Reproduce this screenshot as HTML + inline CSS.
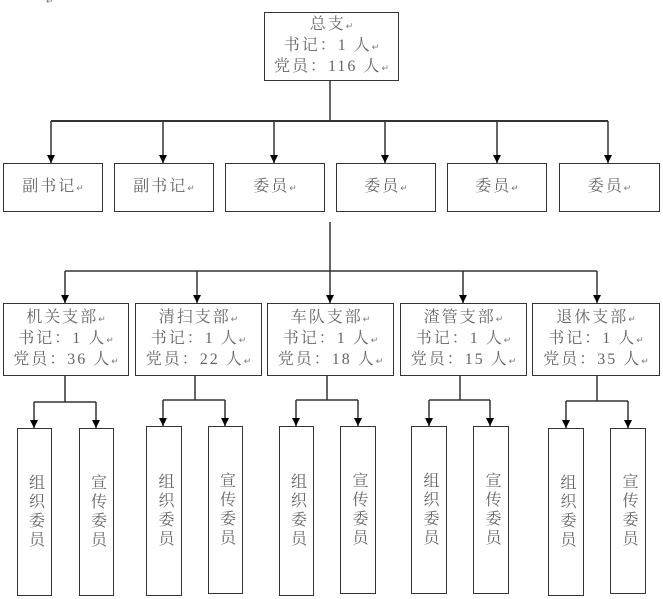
<!DOCTYPE html>
<html><head><meta charset="utf-8"><style>
body{margin:0;width:663px;height:599px;background:#fff;position:relative;overflow:hidden;font-family:"Liberation Serif","Noto Serif CJK SC",serif;color:#666}
.b{position:absolute;border:1.5px solid #333;box-sizing:border-box;background:#fff;text-align:center;display:flex;flex-direction:column;justify-content:center;font-size:16px;line-height:20px;letter-spacing:2px}
.r{font-size:9px;color:#777;letter-spacing:0}
.v{writing-mode:vertical-rl;font-size:16px;letter-spacing:3px;justify-content:center;align-items:center}
svg{position:absolute;left:0;top:0}
</style></head><body>
<div style="position:absolute;left:46px;top:-4px;font-size:9px;color:#777">↵</div>
<svg width="663" height="599">
<defs><marker id="a" markerWidth="9" markerHeight="9" refX="8" refY="4" orient="auto" markerUnits="userSpaceOnUse"><path d="M0,0 L8,4 L0,8 z" fill="#000"/></marker></defs>
<g stroke="#333" stroke-width="1.5" fill="none">
<line x1="330" y1="80" x2="330" y2="121"/>
<line x1="51" y1="121" x2="608" y2="121" stroke-width="2"/>
<line x1="51" y1="121" x2="51" y2="163" marker-end="url(#a)"/>
<line x1="163" y1="121" x2="163" y2="163" marker-end="url(#a)"/>
<line x1="274" y1="121" x2="274" y2="163" marker-end="url(#a)"/>
<line x1="385" y1="121" x2="385" y2="163" marker-end="url(#a)"/>
<line x1="497" y1="121" x2="497" y2="163" marker-end="url(#a)"/>
<line x1="608" y1="121" x2="608" y2="163" marker-end="url(#a)"/>
<line x1="330" y1="222" x2="330" y2="303" marker-end="url(#a)"/>
<line x1="65" y1="271" x2="597" y2="271"/>
<line x1="65" y1="271" x2="65" y2="303" marker-end="url(#a)"/>
<line x1="197" y1="271" x2="197" y2="303" marker-end="url(#a)"/>
<line x1="463" y1="271" x2="463" y2="303" marker-end="url(#a)"/>
<line x1="597" y1="271" x2="597" y2="303" marker-end="url(#a)"/>
<line x1="65" y1="375" x2="65" y2="402"/><line x1="34" y1="402" x2="96" y2="402"/>
<line x1="34" y1="402" x2="34" y2="428" marker-end="url(#a)"/><line x1="96" y1="402" x2="96" y2="428" marker-end="url(#a)"/>
<line x1="195" y1="375" x2="195" y2="400"/><line x1="163" y1="400" x2="225" y2="400"/>
<line x1="163" y1="400" x2="163" y2="426" marker-end="url(#a)"/><line x1="225" y1="400" x2="225" y2="426" marker-end="url(#a)"/>
<line x1="327" y1="375" x2="327" y2="400"/><line x1="296" y1="400" x2="358" y2="400"/>
<line x1="296" y1="400" x2="296" y2="426" marker-end="url(#a)"/><line x1="358" y1="400" x2="358" y2="426" marker-end="url(#a)"/>
<line x1="460" y1="375" x2="460" y2="400"/><line x1="429" y1="400" x2="490" y2="400"/>
<line x1="429" y1="400" x2="429" y2="426" marker-end="url(#a)"/><line x1="490" y1="400" x2="490" y2="426" marker-end="url(#a)"/>
<line x1="597" y1="375" x2="597" y2="401"/><line x1="566" y1="401" x2="628" y2="401"/>
<line x1="566" y1="401" x2="566" y2="428" marker-end="url(#a)"/><line x1="628" y1="401" x2="628" y2="428" marker-end="url(#a)"/>
</g></svg>
<div class="b" style="left:264px;top:12px;width:135px;height:69px">
<div>总支<span class="r">↵</span></div><div>书记：1 人<span class="r">↵</span></div><div>党员：116 人<span class="r">↵</span></div></div>
<div class="b" style="left:3px;top:163px;width:100px;height:49px"><div>副书记<span class="r">↵</span></div></div>
<div class="b" style="left:114px;top:163px;width:100px;height:49px"><div>副书记<span class="r">↵</span></div></div>
<div class="b" style="left:225px;top:163px;width:100px;height:49px"><div>委员<span class="r">↵</span></div></div>
<div class="b" style="left:336px;top:163px;width:100px;height:49px"><div>委员<span class="r">↵</span></div></div>
<div class="b" style="left:447px;top:163px;width:100px;height:49px"><div>委员<span class="r">↵</span></div></div>
<div class="b" style="left:559px;top:163px;width:101px;height:49px"><div>委员<span class="r">↵</span></div></div>

<div class="b" style="left:3px;top:303px;width:126px;height:73px"><div>机关支部<span class="r">↵</span></div><div>书记：1 人<span class="r">↵</span></div><div>党员：36 人<span class="r">↵</span></div></div>
<div class="b" style="left:135px;top:303px;width:127px;height:73px"><div>清扫支部<span class="r">↵</span></div><div>书记：1 人<span class="r">↵</span></div><div>党员：22 人<span class="r">↵</span></div></div>
<div class="b" style="left:267px;top:303px;width:127px;height:73px"><div>车队支部<span class="r">↵</span></div><div>书记：1 人<span class="r">↵</span></div><div>党员：18 人<span class="r">↵</span></div></div>
<div class="b" style="left:400px;top:303px;width:127px;height:73px"><div>渣管支部<span class="r">↵</span></div><div>书记：1 人<span class="r">↵</span></div><div>党员：15 人<span class="r">↵</span></div></div>
<div class="b" style="left:532px;top:303px;width:128px;height:73px"><div>退休支部<span class="r">↵</span></div><div>书记：1 人<span class="r">↵</span></div><div>党员：35 人<span class="r">↵</span></div></div>

<div class="b v" style="left:17px;top:428px;width:35px;height:168px">组织委员</div>
<div class="b v" style="left:79px;top:428px;width:35px;height:168px">宣传委员</div>
<div class="b v" style="left:146px;top:426px;width:36px;height:170px">组织委员</div>
<div class="b v" style="left:208px;top:426px;width:35px;height:168px">宣传委员</div>
<div class="b v" style="left:279px;top:426px;width:35px;height:170px">组织委员</div>
<div class="b v" style="left:340px;top:426px;width:36px;height:168px">宣传委员</div>
<div class="b v" style="left:411px;top:426px;width:36px;height:168px">组织委员</div>
<div class="b v" style="left:473px;top:426px;width:36px;height:168px">宣传委员</div>
<div class="b v" style="left:548px;top:428px;width:36px;height:168px">组织委员</div>
<div class="b v" style="left:610px;top:428px;width:36px;height:166px">宣传委员</div>
</body></html>
